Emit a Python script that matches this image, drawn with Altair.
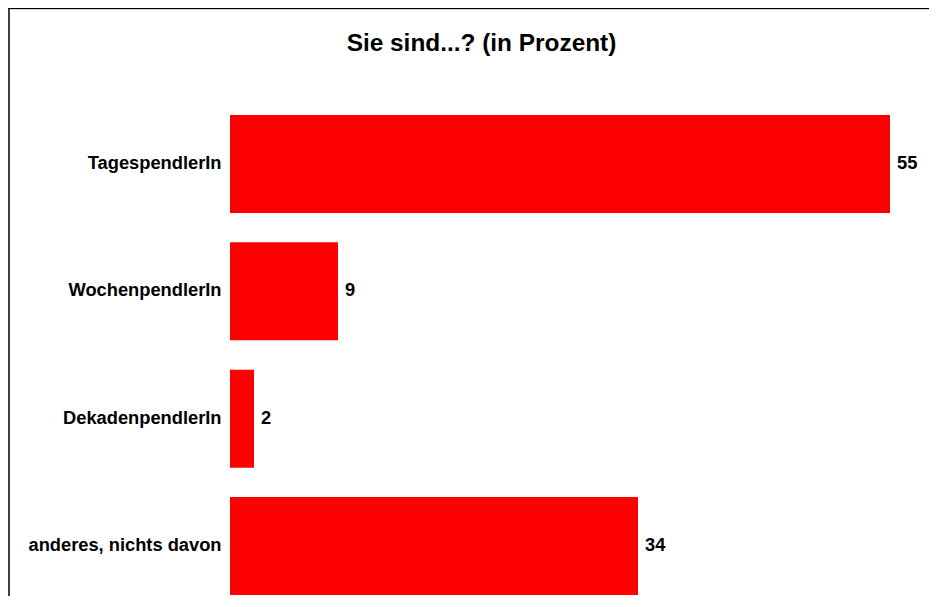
import altair as alt
import pandas as pd

# ---- data ----
categories = ["TagespendlerIn", "WochenpendlerIn", "DekadenpendlerIn", "anderes, nichts davon"]
values = [55, 9, 2, 34]
title_text = "Sie sind...? (in Prozent)"

df = pd.DataFrame({"kategorie": categories, "prozent": values})
frame_df = pd.DataFrame({"f": [0]})

W, H = 921, 588
FONT = "Liberation Sans"
PX_PER_UNIT = 12.0
ZERO_PX = 222

y_enc = alt.Y(
    "kategorie:N",
    sort=categories,
    scale=alt.Scale(range=[92.33, 601.67], paddingInner=0.2304, paddingOuter=0.1152),
    axis=alt.Axis(
        title=None, domain=False, ticks=False, tickSize=0, offset=-ZERO_PX,
        labelPadding=9, labelFont=FONT, labelFontSize=18.3, labelFontWeight="bold",
        labelColor="black", labelLimit=400,
    ),
)
x_enc = alt.X(
    "prozent:Q",
    scale=alt.Scale(domain=[-ZERO_PX / PX_PER_UNIT, (W - ZERO_PX) / PX_PER_UNIT], nice=False, zero=False),
    axis=None,
)

bars = alt.Chart(df).mark_bar(color="#ff0000").encode(x=x_enc, y=y_enc)
labels = alt.Chart(df).mark_text(
    align="left", baseline="middle", dx=7, font=FONT, fontSize=18.3,
    fontWeight="bold", color="black",
).encode(x=x_enc, y=y_enc, text="prozent:Q")

frame_left = alt.Chart(frame_df).mark_rule(color="#404040", strokeWidth=2).encode(
    x=alt.value(1), y=alt.value(0), y2=alt.value(H)
)
frame_top = alt.Chart(frame_df).mark_rule(color="black", strokeWidth=1).encode(
    x=alt.value(0), x2=alt.value(W), y=alt.value(0.5)
)
frame_top2 = alt.Chart(frame_df).mark_rule(color="#d4d4d4", strokeWidth=1).encode(
    x=alt.value(2), x2=alt.value(W), y=alt.value(1.5)
)

chart = alt.layer(frame_left, frame_top, frame_top2, bars, labels).properties(
    width=W,
    height=H,
    padding=0,
    autosize=alt.AutoSizeParams(type="none"),
    title=alt.TitleParams(
        text=title_text, font=FONT, fontSize=24.4, fontWeight="bold", color="black",
        anchor="middle", frame="group", baseline="alphabetic", offset=-68, dx=13,
    ),
).configure_view(strokeWidth=0).configure(background="white")

chart.save("out.html", embed_options={"renderer": "svg", "actions": False})
